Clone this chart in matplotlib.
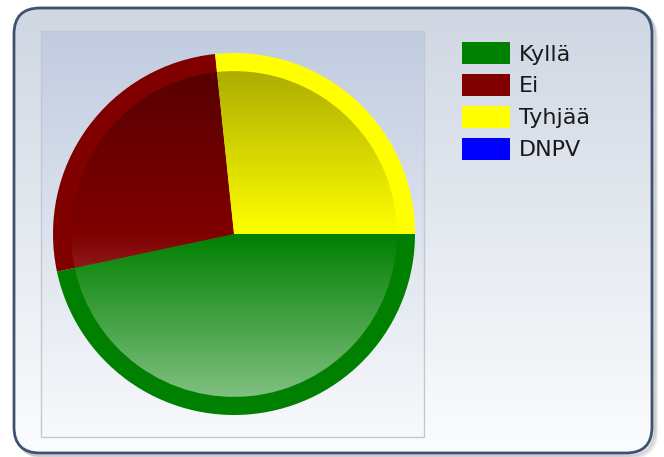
import numpy as np
import matplotlib
matplotlib.use("Agg")
import matplotlib.pyplot as plt
from matplotlib.patches import FancyBboxPatch, Rectangle, Wedge, Patch
from matplotlib.colors import to_rgb

labels = ["Kyllä", "Ei", "Tyhjää", "DNPV"]
votes = [7, 4, 4, 0]
colors = ["#008000", "#800000", "#ffff00", "#0000ff"]

W, H = 664, 457


def vgradient(top, bottom, n=256):
    top = np.array(to_rgb(top))
    bottom = np.array(to_rgb(bottom))
    t = np.linspace(0, 1, n)[:, None]
    return (top * (1 - t) + bottom * t)[:, None, :]


def shade(color, n=256):
    # darker at the top, lighter at the bottom, pure colour in the middle
    c = np.array(to_rgb(color))
    t = np.linspace(0, 1, n)[:, None]
    dark = c * 0.68
    light = c + (1 - c) * 0.5
    out = np.where(t < 0.5, dark + (c - dark) * (t / 0.5), c + (light - c) * ((t - 0.5) / 0.5))
    return out[:, None, :]


fig = plt.figure(figsize=(W / 100, H / 100), dpi=100)
fig.patch.set_facecolor("white")

bg = fig.add_axes([0, 0, 1, 1])
bg.set_xlim(0, W)
bg.set_ylim(H, 0)
bg.axis("off")

# soft shadow round the frame
for i, a in enumerate([0.10, 0.08, 0.06, 0.04]):
    sh = FancyBboxPatch((14 + 2 + i, 8 + 2 + i), 638, 445, boxstyle="round,pad=0,rounding_size=26",
                        facecolor="none", edgecolor="#000000", alpha=a, lw=2)
    bg.add_patch(sh)

frame = FancyBboxPatch((14, 8), 638, 445, boxstyle="round,pad=0,rounding_size=26",
                       facecolor="none", edgecolor="#3d5272", lw=2.0, zorder=3)
bg.add_patch(frame)
im = bg.imshow(vgradient("#cfd7e3", "#fbfcfd"), extent=(14, 652, 453, 8), aspect="auto", zorder=1)
im.set_clip_path(frame)

box = Rectangle((41, 31), 383, 406, facecolor="none", edgecolor="#c3c7cf", lw=1.0, zorder=3)
bg.add_patch(box)
im2 = bg.imshow(vgradient("#c1cce0", "#f8f9fb"), extent=(41, 424, 437, 31), aspect="auto", zorder=2)
im2.set_clip_path(box)
bg.set_xlim(0, W)
bg.set_ylim(H, 0)

# pie
cx, cy, r = 234, 234, 181
ax = fig.add_axes([(cx - r) / W, (H - cy - r) / H, 2 * r / W, 2 * r / H])
wedges, _ = ax.pie(votes, colors=colors, startangle=0, counterclock=False,
                   wedgeprops=dict(linewidth=0))
ri = 0.9
for w, col in zip(wedges, colors):
    if w.theta2 - w.theta1 <= 0:
        continue
    inner = Wedge((0, 0), ri, w.theta1, w.theta2, transform=ax.transData)
    g = ax.imshow(shade(col), extent=(-ri, ri, -ri, ri), aspect="auto", zorder=3)
    g.set_clip_path(inner)
ax.set_xlim(-1, 1)
ax.set_ylim(-1, 1)
ax.axis("off")

handles = [Patch(facecolor=c, edgecolor="none") for c in colors]
fig.legend(handles, labels, loc="upper left", bbox_to_anchor=(462 / W, 1 - 42 / H),
           frameon=False, fontsize=16, handlelength=2.16, handleheight=1.15,
           labelspacing=0.42, handletextpad=0.4, borderpad=0, borderaxespad=0,
           labelcolor="#1a1a1a")

fig.savefig("out.png", dpi=100)
